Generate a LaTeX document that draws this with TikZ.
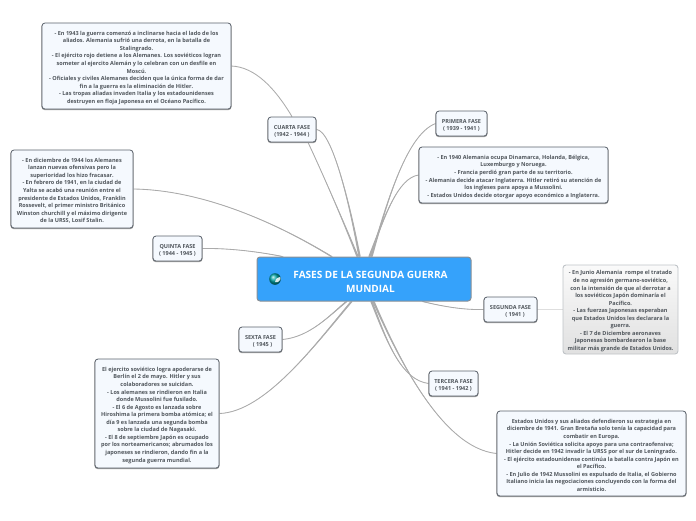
\documentclass[tikz,border=0pt]{standalone}
\usepackage{fontspec}
\setmainfont{Open Sans}
\usetikzlibrary{calc,shadings}
\definecolor{boxedge}{HTML}{5B626B}
\definecolor{boxfill}{HTML}{F5F9FE}
\definecolor{boxtext}{HTML}{50565C}
\definecolor{linkgray}{HTML}{ABABAB}
\definecolor{topicblue}{HTML}{35A2FB}
\definecolor{topicedge}{HTML}{8A8F94}
\definecolor{softedge}{HTML}{BFC3C7}
\newcommand{\tl}{\rule{0pt}{7.8pt}}
\tikzset{
  basebox/.style={rounded corners=3pt, align=center, inner sep=0pt, text=boxtext,
    font=\fontsize{5.55}{7.55}\selectfont\bfseries},
  textbox/.style={basebox, draw=boxedge, line width=0.8pt, fill=boxfill,
    preaction={draw=black!40, line width=1.2pt, transform canvas={yshift=-0.6pt}}},
  softbox/.style={basebox, draw=softedge, line width=0.9pt, top color=white!98!black, bottom color=black!12},
  phasebox/.style={textbox},
  topicbox/.style={rounded corners=3pt, align=center, inner sep=0pt, draw=topicedge, line width=1pt,
    fill=topicblue, text=white, font=\fontsize{10.05}{14}\selectfont\bfseries},
  link/.style={draw=linkgray, line width=0.85pt},
  softlink/.style={draw=black!13, line width=1.2pt}
}
% connector that thickens towards the central topic
\newcommand{\taperlink}[4]{%
  \draw[link] (#1) .. controls (#2) and (#3) .. (#4);
  \fill[linkgray] ($(#1)+(-1.2,0)$) .. controls ($(#2)+(-0.6,0)$) and (#3) .. (#4) .. controls (#3) and ($(#2)+(0.6,0)$) .. ($(#1)+(1.2,0)$) -- cycle;}
\begin{document}
\begin{tikzpicture}[x=1pt,y=-1pt]
\useasboundingbox (0,0) rectangle (696,520);
\pgfdeclarelayer{front}
\pgfsetlayers{main,front}
\begin{pgfonlayer}{front}
\node[topicbox, minimum width=214pt, minimum height=44pt] (c) at (364,279) {\rule{0pt}{12.5pt}\hspace*{13pt}FASES DE LA SEGUNDA GUERRA\\\hspace*{13pt}MUNDIAL};
\node[phasebox, minimum width=51pt, minimum height=25pt] (p1) at (461.5,123.5) {\tl PRIMERA FASE\\( 1939 - 1941 )};
\node[textbox, minimum width=189pt, minimum height=56pt] (t1) at (513.5,175) {\tl - En 1940 Alemania ocupa Dinamarca, Holanda, Bélgica,\\Luxemburgo y Noruega.\\- Francia perdió gran parte de su territorio.\\- Alemania decide atacar Inglaterra. Hitler retiró su atención de\\los ingleses para apoya a Mussolini.\\- Estados Unidos decide otorgar apoyo económico a Inglaterra.};
\node[phasebox, minimum width=53pt, minimum height=25pt] (p2) at (510.5,309.5) {\tl SEGUNDA FASE\\\hspace*{9pt}( 1941 )};
\node[softbox, minimum width=115pt, minimum height=89pt] (t2) at (620.5,309.5) {\tl - En Junio Alemania \ rompe el tratado\\de no agresión germano-soviético,\\con la intensión de que al derrotar a\\los soviéticos Japón dominaría el\\Pacífico.\\- Las fuerzas Japonesas esperaban\\que Estados Unidos les declarara la\\guerra.\\- El 7 de Diciembre aeronaves\\Japonesas bombardearon la base\\militar más grande de Estados Unidos.};
\node[phasebox, minimum width=49pt, minimum height=25pt] (p3) at (453.5,383.5) {\tl TERCERA FASE\\( 1941 - 1942 )};
\node[textbox, minimum width=189pt, minimum height=85pt] (t3) at (591.5,453.5) {\tl Estados Unidos y sus aliados defendieron su estrategia en\\diciembre de 1941. Gran Bretaña solo tenía la capacidad para\\combatir en Europa.\\- La Unión Soviética solicita apoyo para una contraofensiva;\\Hitler decide en 1942 invadir la URSS por el sur de Leningrado.\\- El ejército estadounidense continúa la batalla contra Japón en\\el Pacífico.\\- En Julio de 1942 Mussolini es expulsado de Italia, el Gobierno\\Italiano inicia las negociaciones concluyendo con la forma del\\armisticio.};
\node[phasebox, minimum width=48pt, minimum height=25pt] (p4) at (292,129.5) {\tl CUARTA FASE\\(1942 - 1944 )};
\node[textbox, minimum width=189pt, minimum height=86pt] (t4) at (136.5,66) {\tl - En 1943 la guerra comenzó a inclinarse hacia el lado de los\\aliados. Alemania sufrió una derrota, en la batalla de\\Stalingrado.\\- El ejército rojo detiene a los Alemanes. Los soviéticos logran\\someter al ejercito Alemán y lo celebran con un desfile en\\Moscú.\\- Oficiales y civiles Alemanes deciden que la única forma de dar\\fin a la guerra es la eliminación de Hitler.\\- Las tropas aliadas invaden Italia y los estadounidenses\\destruyen en floja Japonesa en el Océano Pacífico.};
\node[phasebox, minimum width=49pt, minimum height=25pt] (p5) at (177.5,248.5) {\tl QUINTA FASE\\( 1944 - 1945 )};
\node[textbox, minimum width=122pt, minimum height=78pt] (t5) at (72,189) {\tl - En diciembre de 1944 los Alemanes\\lanzan nuevas ofensivas pero la\\superioridad los hizo fracasar.\\- En febrero de 1941, en la ciudad de\\Yalta se acabó una reunión entre el\\presidente de Estados Unidos, Franklin\\Rossevelt, el primer ministro Británico\\Winston churchill y el máximo dirigente\\de la URSS, Losif Stalin.};
\node[phasebox, minimum width=43pt, minimum height=25pt] (p6) at (260.5,339.5) {\tl SEXTA FASE\\\hspace*{4pt}( 1945 )};
\node[textbox, minimum width=124pt, minimum height=109pt] (t6) at (157,413.5) {\tl El ejercito soviético logra apoderarse de\\Berlín el 2 de mayo. Hitler y sus\\colaboradores se suicidan.\\- Los alemanes se rindieron en Italia\\donde Mussolini fue fusilado.\\- El 6 de Agosto es lanzada sobre\\Hiroshima la primera bomba atómica; el\\día 9 es lanzada una segunda bomba\\sobre la ciudad de Nagasaki.\\- El 8 de septiembre Japón es ocupado\\por los norteamericanos; abrumados los\\japoneses se rindieron, dando fin a la\\segunda guerra mundial.};
% globe icon
\shade[ball color=teal!70!cyan] (275,279) circle (5.8pt);
\fill[white, opacity=0.85] (276,279) .. controls (279,277) and (281,276) .. (280.5,279) .. controls (279,282) and (277,283) .. (275,282) -- cycle;
\end{pgfonlayer}
% connector ends on the topic's border
\coordinate (cN1) at ($(c.north west)+(115,0)$);
\coordinate (cN2) at ($(c.north west)+(113,0)$);
\coordinate (cN3) at ($(c.north west)+(101,0)$);
\coordinate (cN4) at ($(c.north west)+(103,0)$);
\coordinate (cN5) at ($(c.north west)+(75,0)$);
\coordinate (cN6) at ($(c.north west)+(26,0)$);
\coordinate (cS1) at ($(c.south west)+(166,0)$);
\coordinate (cS2) at ($(c.south west)+(115,0)$);
\coordinate (cS3) at ($(c.south west)+(117,0)$);
\coordinate (cS5) at ($(c.south west)+(90,0)$);
\coordinate (cS6) at ($(c.south west)+(95,0)$);
\coordinate (p4bot) at ($(p4.south)+(16,0)$);
\taperlink{cN1}{385,210}{405,135}{p1.west}
\taperlink{cN2}{385,215}{398,178}{t1.west}
\taperlink{cS1}{445,307}{465,310}{p2.west}
\draw[softlink] (p2.east) -- (t2.west);
\taperlink{cS2}{388,345}{402,380}{p3.west}
\taperlink{cS3}{395,350}{440,448}{t3.west}
\taperlink{cN3}{345,225}{322,172}{p4bot}
\taperlink{cN4}{350,205}{332,130}{p4.east}
\draw[link] (p4.north) .. controls (275,88) and (255,67) .. (t4.east);
\taperlink{cN5}{280,225}{205,190}{t5.east}
\taperlink{cN6}{260,252}{230,248}{p5.east}
\taperlink{cS5}{330,315}{310,337}{p6.east}
\taperlink{cS6}{315,345}{265,412}{t6.east}
\end{tikzpicture}
\end{document}
